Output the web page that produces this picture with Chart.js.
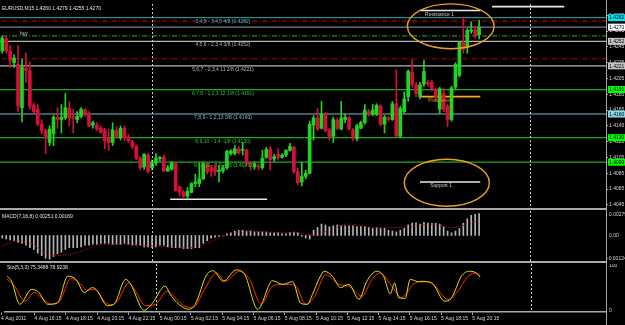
<!DOCTYPE html>
<html><head><meta charset="utf-8">
<script src="https://cdn.jsdelivr.net/npm/chart.js@4.4.1/dist/chart.umd.min.js"></script>
<style>
html,body{margin:0;padding:0;background:#000;width:625px;height:325px;overflow:hidden;position:relative}
canvas{position:absolute;left:0}
</style></head><body>
<canvas id="cMain" width="625" height="212" style="top:0"></canvas>
<canvas id="cMacd" width="625" height="53" style="top:211px"></canvas>
<canvas id="cSto" width="625" height="61" style="top:264px"></canvas>
<script>
// ================= DATA (EURUSD M15, candle index 0 = 4 Aug 14:30) =================
const openP = [1.4240,1.4255,1.4240,1.4225,1.4223,1.4168,1.4218,1.4215,1.4171,1.4166,
1.4147,1.4139,1.4124,1.4135,1.4156,1.4153,1.4155,1.4167,1.4156,1.4153,
1.4157,1.4165,1.4161,1.4146,1.4146,1.4142,1.4140,1.4129,1.4124,1.4139,
1.4130,1.4142,1.4131,1.4125,1.4119,1.4104,1.4093,1.4108,1.4092,1.4098,
1.4104,1.4105,1.4088,1.4090,1.4098,1.4068,1.4061,1.4056,1.4061,1.4072,
1.4072,1.4078,1.4097,1.4092,1.4092,1.4087,1.4088,1.4092,1.4110,1.4110,
1.4116,1.4114,1.4114,1.4098,1.4093,1.4094,1.4092,1.4105,1.4116,1.4103,
1.4109,1.4105,1.4108,1.4114,1.4118,1.4087,1.4074,1.4081,1.4085,1.4146,
1.4155,1.4142,1.4160,1.4140,1.4132,1.4152,1.4141,1.4153,1.4155,1.4140,
1.4129,1.4142,1.4149,1.4163,1.4160,1.4160,1.4170,1.4147,1.4155,1.4153,
1.4173,1.4132,1.4163,1.4182,1.4213,1.4197,1.4182,1.4198,1.4200,1.4200,
1.4191,1.4166,1.4186,1.4170,1.4153,1.4194,1.4209,1.4251,1.4244,1.4265,
1.4267,1.4260];
const highP = [1.4259,1.4259,1.4247,1.4235,1.4247,1.4230,1.4237,1.4226,1.4174,1.4172,
1.4153,1.4141,1.4145,1.4158,1.4168,1.4172,1.4186,1.4176,1.4166,1.4163,
1.4168,1.4167,1.4163,1.4151,1.4149,1.4145,1.4142,1.4141,1.4149,1.4144,
1.4145,1.4145,1.4134,1.4127,1.4121,1.4106,1.4110,1.4110,1.4102,1.4110,
1.4106,1.4108,1.4095,1.4100,1.4099,1.4069,1.4063,1.4067,1.4073,1.4084,
1.4098,1.4099,1.4098,1.4095,1.4097,1.4095,1.4095,1.4114,1.4115,1.4120,
1.4119,1.4124,1.4116,1.4100,1.4099,1.4097,1.4114,1.4118,1.4119,1.4109,
1.4116,1.4110,1.4115,1.4123,1.4119,1.4092,1.4099,1.4089,1.4151,1.4158,
1.4167,1.4176,1.4162,1.4142,1.4156,1.4155,1.4176,1.4160,1.4157,1.4142,
1.4147,1.4151,1.4172,1.4166,1.4172,1.4173,1.4172,1.4158,1.4157,1.4176,
1.4216,1.4170,1.4188,1.4216,1.4229,1.4200,1.4200,1.4228,1.4203,1.4203,
1.4193,1.4194,1.4193,1.4172,1.4195,1.4225,1.4252,1.4283,1.4268,1.4277,
1.4271,1.4279];
const lowP = [1.4237,1.4237,1.4219,1.4219,1.4163,1.4150,1.4200,1.4166,1.4161,1.4145,
1.4135,1.4110,1.4120,1.4120,1.4142,1.4136,1.4153,1.4145,1.4136,1.4149,
1.4155,1.4157,1.4144,1.4142,1.4139,1.4135,1.4116,1.4114,1.4120,1.4129,
1.4127,1.4126,1.4124,1.4116,1.4102,1.4089,1.4090,1.4085,1.4089,1.4095,
1.4100,1.4087,1.4087,1.4089,1.4062,1.4056,1.4053,1.4053,1.4060,1.4068,
1.4068,1.4077,1.4084,1.4081,1.4082,1.4074,1.4085,1.4090,1.4108,1.4108,
1.4109,1.4108,1.4095,1.4089,1.4090,1.4089,1.4090,1.4104,1.4089,1.4100,
1.4102,1.4104,1.4106,1.4113,1.4085,1.4071,1.4069,1.4078,1.4084,1.4127,
1.4139,1.4141,1.4137,1.4127,1.4124,1.4140,1.4140,1.4149,1.4140,1.4126,
1.4126,1.4141,1.4147,1.4157,1.4158,1.4158,1.4145,1.4136,1.4151,1.4152,
1.4131,1.4130,1.4161,1.4176,1.4194,1.4182,1.4179,1.4195,1.4195,1.4189,
1.4176,1.4161,1.4163,1.4144,1.4151,1.4191,1.4207,1.4237,1.4237,1.4262,
1.4256,1.4255];
const closeP = [1.4256,1.4240,1.4228,1.4231,1.4170,1.4219,1.4215,1.4170,1.4163,1.4147,
1.4139,1.4130,1.4141,1.4156,1.4153,1.4156,1.4168,1.4155,1.4155,1.4157,
1.4166,1.4160,1.4145,1.4149,1.4141,1.4137,1.4126,1.4124,1.4140,1.4131,
1.4142,1.4130,1.4126,1.4119,1.4104,1.4092,1.4109,1.4087,1.4099,1.4104,
1.4105,1.4088,1.4092,1.4098,1.4063,1.4061,1.4056,1.4062,1.4072,1.4074,
1.4078,1.4097,1.4087,1.4088,1.4087,1.4089,1.4092,1.4113,1.4113,1.4116,
1.4111,1.4115,1.4098,1.4097,1.4097,1.4093,1.4104,1.4115,1.4102,1.4106,
1.4105,1.4108,1.4114,1.4119,1.4087,1.4073,1.4081,1.4085,1.4147,1.4155,
1.4141,1.4160,1.4139,1.4130,1.4153,1.4142,1.4155,1.4156,1.4141,1.4129,
1.4145,1.4149,1.4165,1.4160,1.4165,1.4171,1.4147,1.4156,1.4153,1.4173,
1.4132,1.4167,1.4179,1.4214,1.4197,1.4186,1.4197,1.4214,1.4198,1.4192,
1.4182,1.4192,1.4166,1.4153,1.4193,1.4223,1.4251,1.4242,1.4266,1.4266,
1.4259,1.4270];

const priceTicks = [1.4285,1.4265,1.4245,1.4225,1.4205,1.4185,1.4165,1.4145,1.4125,1.4105,1.4085,1.4065,1.4045];

// Murrey math levels
const murreyPrices = [1.4282,1.4252,1.4221,1.4191,1.4160,1.4130,1.4099];
const murreyTexts = ['3,4,5 - 3,4,5 4/8 (1.4282)','4,5,6 - 2,3,4 3/8 (1.4252)','5,6,7 - 2,3,4 11 2/8 (1.4221)',
  '6,7,8 - 1,2,3 12 1/8 (1.4191)','7,8,9 - 1,2,13 0/8 (1.4160)','8,9,10 - 1,4 -1/8 (1.4130)','9,10,11 - 1,5 -2/8 (1.4099)'];
const murreyLabelIndex = 56;

// dash-dot order levels and bid
const dashLevels = [1.4278,1.4259,1.4230];
const bidPrice = 1.4270;

// short segments: Resistance 1, top line, Pivot, Support 1, bottom line
const segPrice = [1.4291,1.4296,1.4182,1.4074,1.4052];
const segStart = [106,124.3,106,106,42.6];
const segEnd   = [121.3,142.6,121.3,121.3,67.2];

// notes
const noteTexts = ['buy','Resistance 1','Pivot level','Support 1'];
const noteIndex = [4.5,107.3,108.1,108.6];
const notePrice = [1.4262,1.4286,1.4177,1.4069];

// ellipses (centre index, centre price, half-width in candles, half-height in price)
const ellCenterIdx = [113.8,112.8];
const ellCenterPrice = [1.4271,1.4073];
const ellHalfIdx = [11.0,10.8];
const ellHalfPrice = [0.00284,0.00297];

// right-axis price boxes
const boxPrices = [1.4282,1.4270,1.4252,1.4221,1.4191,1.4160,1.4130,1.4099];

// time axis
const timeTickIndex = [-1.6,7,15,23,31,39,47,55,63,71,79,87,95,103,111,119];
const timeTickLabels = ['4 Aug 2011','4 Aug 16:15','4 Aug 18:15','4 Aug 20:15','4 Aug 22:15','5 Aug 00:15','5 Aug 02:15',
  '5 Aug 04:15','5 Aug 06:15','5 Aug 08:15','5 Aug 10:15','5 Aug 12:15','5 Aug 14:15','5 Aug 16:15','5 Aug 18:15','5 Aug 20:15'];
const daySeparatorIndex = [38,134];

// MACD(7,16,8)
const macdHist = [-0.0003,-0.0004,-0.0005,-0.0006,-0.0008,-0.0009,-0.0011,-0.0014,-0.0016,-0.0020,
-0.0023,-0.0026,-0.0027,-0.0024,-0.0021,-0.0019,-0.0016,-0.0014,-0.0014,-0.0014,
-0.0013,-0.0011,-0.0011,-0.0010,-0.0010,-0.0009,-0.0009,-0.0009,-0.0010,-0.0010,
-0.0010,-0.0009,-0.0010,-0.0011,-0.0011,-0.0011,-0.0013,-0.0013,-0.0014,-0.0013,
-0.0011,-0.0011,-0.0013,-0.0014,-0.0014,-0.0014,-0.0015,-0.0015,-0.0015,-0.0014,
-0.0014,-0.0009,-0.0006,-0.0003,-0.0002,-0.0001,0.0000,0.0002,0.0003,0.0005,
0.0006,0.0006,0.0005,0.0005,0.0004,0.0004,0.0004,0.0004,0.0003,0.0003,
0.0003,0.0002,0.0002,0.0003,0.0004,0.0003,-0.0001,-0.0003,-0.0004,0.0006,
0.0009,0.0013,0.0012,0.0010,0.0011,0.0012,0.0011,0.0011,0.0011,0.0011,
0.0010,0.0010,0.0010,0.0009,0.0008,0.0009,0.0008,0.0008,0.0006,0.0005,
0.0004,0.0006,0.0008,0.0012,0.0014,0.0014,0.0013,0.0015,0.0014,0.0014,
0.0014,0.0013,0.0010,0.0005,0.0003,0.0005,0.0008,0.0014,0.0019,0.0023,
0.0024,0.0025];
const macdSignalIndex = [0,4,8,10,14,16,20,23,25,33,38,43,47,50,54,57,60,64,67,74,79,83,88,95,101,109,114,121];
const macdSignal = [-0.0012,-0.0006,-0.0011,-0.0018,-0.0023,-0.0022,-0.0018,-0.0013,-0.0010,-0.0010,-0.0012,-0.0013,-0.0014,-0.0012,
  -0.0005,0.0000,0.0004,0.0005,0.0004,0.0003,0.0001,0.0006,0.0013,0.0009,0.0009,0.0013,0.0009,0.0017];
const macdTickLabels = ['0.00279','0.00','-0.00124'];

// Stochastic(5,3,3)
const stochKIndex = [0,1.1,3.2,6.2,7.9,10.4,12.9,15.5,17.6,19.7,21.8,23.1,25.6,27.3,30.3,31.6,35,37.1,40.4,41.7,43.4,46.4,48.1,51,52.7,55.3,58.6,60.8,64.1,67.9,70.5,73,75.1,76.8,78.1,80,81.1,83.2,85.3,87.4,90,92,94.6,96.3,98,99.1,100.1,101.8,103.1,105.2,107.3,109,111.9,113.6,116.2,118.3,120,121];
const stochK = [77,66,15,48,43,15,19,77,70,41,52,44,12,15,70,59,2,17,55,37,19,4,15,80,89,66,91,80,4,67,59,65,17,15,37,75,88,77,52,59,26,66,88,77,38,62,30,28,70,65,65,59,22,28,77,88,84,75];
const stochDIndex = [0,1.9,4.5,7,8.7,11.3,13.4,16.3,18.4,20.6,22.3,24.8,26.5,28.2,31.1,32.8,35.4,37.9,40.9,42.6,45.1,47.6,50.2,53.6,55.7,59.5,62,65,67.5,69.6,72.2,73.9,76.4,78.5,81.5,84.9,87.4,90.8,93.3,95.4,98.4,100.9,103.9,106,108.6,112.8,115.3,117.9,120,121];
const stochD = [70,55,22,41,30,15,22,72,62,46,48,22,14,22,62,44,12,15,44,33,12,8,44,84,66,88,70,15,52,59,59,55,15,30,80,59,55,33,70,84,55,30,59,66,62,26,44,77,84,79];
const stochTickLabels = ['100','0'];
const stochTickValues = [100,0];

// ================= STYLE / LAYOUT =================
const FONT = 'Liberation Sans';
Chart.defaults.font.family = FONT;
Chart.defaults.font.size = 5;
Chart.defaults.animation = false;
const X_MIN = -0.58, X_MAX = 153.2;
const UP = '#22d422', DN = '#d2103a';
const AXIS = '#a8a8a8', TXT = '#d4d4d4';
const murreyLineColors = ['#238c8c','#b4b4b4','#b4b4b4','#20a820','#7cbccc','#20a820','#20a820'];
const murreyTextColors = ['#2cc8d4','#b4b4b4','#b4b4b4','#28c828','#7cbccc','#28c828','#28c828'];
const dashColors = ['#b40000','#209020','#b40000'];
const segColors = ['#e8e8e8','#e8e8e8','#f0b020','#e8e8e8','#e8e8e8'];
const noteColors = ['#c8c8c8','#c8c8c8','#e88a10','#c8c8c8'];
const boxColors = ['#00e4ee','#ffffff','#c4c4c4','#c4c4c4','#00ff00','#88d8e8','#00ff00','#00ff00'];

const candleIdx = openP.map((_, i) => i);
const candleColors = openP.map((o, i) => closeP[i] >= o ? UP : DN);

function hLine(x0, x1, p, color, width, dash, order) {
  return {type:'line', data:[{x:x0,y:p},{x:x1,y:p}], borderColor:color, borderWidth:width,
    borderDash:dash || [], pointRadius:0, order:order};
}
const xHidden = {type:'linear', min:X_MIN, max:X_MAX, display:false, offset:false};

function drawSeparators(ctx, a, x) {
  ctx.save();
  ctx.strokeStyle = '#c8c8c8'; ctx.lineWidth = 1; ctx.setLineDash([2,2]);
  daySeparatorIndex.forEach(k => {
    const px = Math.round(x.getPixelForValue(k)) + 0.5;
    ctx.beginPath(); ctx.moveTo(px, a.top); ctx.lineTo(px, a.bottom); ctx.stroke();
  });
  ctx.restore();
}
function panelFrame(ctx, chart, bottomSep) {
  const a = chart.chartArea;
  ctx.save();
  ctx.strokeStyle = AXIS;
  ctx.lineWidth = 1;
  ctx.beginPath(); ctx.moveTo(a.right + 0.5, 0); ctx.lineTo(a.right + 0.5, chart.height); ctx.stroke();
  if (bottomSep) {
    ctx.lineWidth = 2;
    ctx.beginPath(); ctx.moveTo(0, a.bottom + 1); ctx.lineTo(a.right + 1, a.bottom + 1); ctx.stroke();
  }
  ctx.restore();
}

// ================= MAIN PRICE CHART =================
const mainDatasets = [];
murreyPrices.forEach((p, i) => mainDatasets.push(hLine(X_MIN-2, X_MAX+2, p, murreyLineColors[i], 1.2, [], 6)));
dashLevels.forEach((p, i) => mainDatasets.push(hLine(X_MIN-2, X_MAX+2, p, dashColors[i], 1.2, [5,2,1,2], 6)));
mainDatasets.push(hLine(X_MIN-2, X_MAX+2, bidPrice, '#7c7c8c', 1.2, [], 6));
segPrice.forEach((p, i) => mainDatasets.push(hLine(segStart[i], segEnd[i], p, segColors[i], 1.6, [], 4)));
mainDatasets.push({type:'bar', data:candleIdx.map(i => ({x:i, y:[lowP[i], highP[i]]})),
  backgroundColor:candleColors, barThickness:1, grouped:false, order:2});
mainDatasets.push({type:'bar', data:candleIdx.map(i => ({x:i, y:[openP[i], closeP[i]]})),
  backgroundColor:candleColors, barThickness:3, grouped:false, minBarLength:1, order:1});

const mainOverlay = {
  id:'mainOverlay',
  afterDatasetsDraw(chart) {
    const {ctx, chartArea:a, scales:{x, y}} = chart;
    drawSeparators(ctx, a, x);
    ctx.save();
    // ellipses
    ctx.strokeStyle = '#f0a020'; ctx.lineWidth = 1.4;
    ellCenterIdx.forEach((k, i) => {
      const cx = x.getPixelForValue(k), cy = y.getPixelForValue(ellCenterPrice[i]);
      const rx = x.getPixelForValue(k + ellHalfIdx[i]) - cx;
      const ry = cy - y.getPixelForValue(ellCenterPrice[i] + ellHalfPrice[i]);
      ctx.beginPath(); ctx.ellipse(cx, cy, rx, ry, 0, 0, Math.PI*2); ctx.stroke();
    });
    ctx.font = '5px "' + FONT + '"';
    ctx.textBaseline = 'middle';
    // Murrey labels
    ctx.textAlign = 'center';
    murreyPrices.forEach((p, i) => {
      ctx.fillStyle = murreyTextColors[i];
      ctx.fillText(murreyTexts[i], x.getPixelForValue(murreyLabelIndex), y.getPixelForValue(p) + 3.6);
    });
    // notes
    ctx.textAlign = 'left';
    noteTexts.forEach((t, i) => {
      ctx.fillStyle = noteColors[i];
      ctx.fillText(t, x.getPixelForValue(noteIndex[i]), y.getPixelForValue(notePrice[i]));
    });
    // header
    ctx.fillStyle = '#e4e4e4';
    ctx.fillText('EURUSD,M15 1.4260 1.4279 1.4255 1.4270', a.left + 2, a.top + 5);
    ctx.restore();
  },
  afterDraw(chart) {
    const {ctx, chartArea:a, scales:{y}} = chart;
    ctx.save();
    ctx.font = '5px "' + FONT + '"';
    ctx.textBaseline = 'middle'; ctx.textAlign = 'left';
    boxPrices.forEach((p, i) => {
      const py = y.getPixelForValue(p);
      ctx.fillStyle = boxColors[i];
      ctx.fillRect(a.right + 2, py - 3.5, 625 - a.right - 2, 7);
      ctx.fillStyle = '#000';
      ctx.fillText(p.toFixed(4), a.right + 3, py + 0.3);
    });
    ctx.restore();
    panelFrame(ctx, chart, true);
  }
};

new Chart(document.getElementById('cMain'), {
  type:'bar',
  data:{datasets:mainDatasets},
  options:{
    responsive:false, animation:false, events:[],
    layout:{autoPadding:false, padding:{left:0, right:0, top:0, bottom:3}},
    plugins:{legend:{display:false}, tooltip:{enabled:false}},
    scales:{
      x:xHidden,
      y:{position:'right', min:1.40410, max:1.42993,
        afterFit(s){ s.width = 19; },
        afterBuildTicks(s){ s.ticks = priceTicks.map(v => ({value:v})); },
        grid:{display:true, drawOnChartArea:false, tickLength:2, color:AXIS},
        border:{display:true, color:AXIS, width:1},
        ticks:{color:TXT, font:{size:5, family:FONT}, padding:1, autoSkip:false,
          callback:v => Number(v).toFixed(4)}}
    }
  },
  plugins:[mainOverlay]
});

// ================= MACD =================
const MACD_MIN = -0.00291, MACD_MAX = 0.00279;
const macdOverlay = {
  id:'macdOverlay',
  afterDatasetsDraw(chart) {
    const {ctx, chartArea:a, scales:{x}} = chart;
    drawSeparators(ctx, a, x);
    ctx.save();
    ctx.font = '5px "' + FONT + '"'; ctx.textBaseline = 'middle'; ctx.textAlign = 'left';
    ctx.fillStyle = '#e4e4e4';
    ctx.fillText('MACD(7,16,8) 0.00251 0.00169', a.left + 2, a.top + 6);
    ctx.restore();
  },
  afterDraw(chart) {
    const {ctx, chartArea:a, scales:{y}} = chart;
    panelFrame(ctx, chart, true);
    ctx.save();
    ctx.font = '5px "' + FONT + '"'; ctx.textBaseline = 'middle'; ctx.textAlign = 'left';
    ctx.fillStyle = TXT; ctx.strokeStyle = AXIS;
    [MACD_MAX, 0, MACD_MIN].forEach((v, i) => {
      const py = Math.min(Math.max(y.getPixelForValue(v), a.top + 4), a.bottom - 2);
      ctx.fillText(macdTickLabels[i], a.right + 3 - (i === 2 ? 2 : 0), py);
    });
    ctx.restore();
  }
};
new Chart(document.getElementById('cMacd'), {
  type:'bar',
  data:{datasets:[
    {type:'line', data:macdSignalIndex.map((k, i) => ({x:k, y:macdSignal[i]})), borderColor:'#e01010',
      borderWidth:1, borderDash:[1,1.5], pointRadius:0, cubicInterpolationMode:'monotone', order:0},
    {type:'bar', data:candleIdx.map(i => ({x:i, y:macdHist[i]})), backgroundColor:'#b4b4b4',
      barThickness:1, grouped:false, order:1}
  ]},
  options:{
    responsive:false, animation:false, events:[],
    layout:{autoPadding:false, padding:{left:0, right:19, top:0, bottom:3}},
    plugins:{legend:{display:false}, tooltip:{enabled:false}},
    scales:{x:xHidden, y:{display:false, min:MACD_MIN, max:MACD_MAX}}
  },
  plugins:[macdOverlay]
});

// ================= STOCHASTIC =================
const stoOverlay = {
  id:'stoOverlay',
  afterDatasetsDraw(chart) {
    const {ctx, chartArea:a, scales:{x}} = chart;
    drawSeparators(ctx, a, x);
    ctx.save();
    ctx.font = '5px "' + FONT + '"'; ctx.textBaseline = 'middle'; ctx.textAlign = 'left';
    ctx.fillStyle = '#e4e4e4';
    ctx.fillText('Sto(5,3,3) 75.3488 78.9238', a.left + 2, a.top + 4);
    ctx.restore();
  },
  afterDraw(chart) {
    const {ctx, chartArea:a, scales:{y}} = chart;
    panelFrame(ctx, chart, false);
    ctx.save();
    ctx.font = '5px "' + FONT + '"'; ctx.textBaseline = 'middle'; ctx.textAlign = 'left';
    ctx.fillStyle = TXT;
    stochTickValues.forEach((v, i) => {
      const py = Math.min(Math.max(y.getPixelForValue(v), a.top + 2), a.bottom);
      ctx.fillText(stochTickLabels[i], a.right + 3, py);
    });
    ctx.restore();
  }
};
new Chart(document.getElementById('cSto'), {
  type:'line',
  data:{datasets:[
    {data:stochDIndex.map((k, i) => ({x:k, y:stochD[i]})), borderColor:'#ff2a00', borderWidth:1,
      pointRadius:0, cubicInterpolationMode:'monotone', order:1},
    {data:stochKIndex.map((k, i) => ({x:k, y:stochK[i]})), borderColor:'#e4e400', borderWidth:1,
      pointRadius:0, cubicInterpolationMode:'monotone', order:0}
  ]},
  options:{
    responsive:false, animation:false, events:[],
    layout:{autoPadding:false, padding:{left:0, right:19, top:0, bottom:0}},
    plugins:{legend:{display:false}, tooltip:{enabled:false}},
    scales:{
      x:{type:'linear', min:X_MIN, max:X_MAX, offset:false,
        afterFit(s){ s.height = 13; },
        afterBuildTicks(s){ s.ticks = timeTickIndex.map(v => ({value:v})); },
        grid:{display:true, drawOnChartArea:false, tickLength:3, color:AXIS},
        border:{display:true, color:AXIS, width:1.5},
        ticks:{color:TXT, font:{size:5, family:FONT}, padding:1, align:'start', maxRotation:0,
          autoSkip:false, callback:(v, i) => timeTickLabels[i]}},
      y:{display:false, min:-2, max:104}
    }
  },
  plugins:[stoOverlay]
});
</script>
</body></html>
